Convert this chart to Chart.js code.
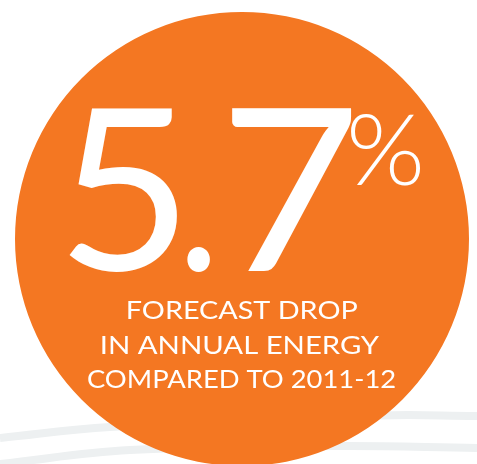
<!DOCTYPE html>
<html>
<head>
<meta charset="utf-8">
<script src="https://cdn.jsdelivr.net/npm/chart.js@4/dist/chart.umd.min.js"></script>
<style>
  html, body { margin: 0; padding: 0; background: #ffffff; overflow: hidden; }
  #wrap { position: relative; width: 477px; height: 464px; }
  #wrap canvas { position: absolute; left: 0; top: 0; }
</style>
</head>
<body>
<div id="wrap">
  <canvas id="bands" width="477" height="464"></canvas>
  <canvas id="circle" width="477" height="464"></canvas>
</div>
<script>
// ---- data ----
const headlineValue = ["5.7"];
const headlineUnit = ["%"];
const captionLines = ["FORECAST DROP", "IN ANNUAL ENERGY", "COMPARED TO 2011-12"];
const circleValues = [5.7];
const circleLabels = ["Forecast drop in annual energy"];

// decorative swoosh bands behind the circle
const bandUpperX = [0, 110, 380, 477];
const bandUpperY = [438, 427, 415.5, 416];
const bandLowerX = [0, 130, 337, 477];
const bandLowerY = [464, 450, 446, 448];

const ORANGE = '#F47722';
const BAND = '#EDF0F1';

function toPoints(xs, ys) { return xs.map((x, i) => ({ x: x, y: ys[i] })); }

// ---- background bands ----
new Chart(document.getElementById('bands'), {
  type: 'line',
  data: {
    datasets: [
      { data: toPoints(bandUpperX, bandUpperY), borderColor: BAND, borderWidth: 8, pointRadius: 0, tension: 0.4, fill: false },
      { data: toPoints(bandLowerX, bandLowerY), borderColor: BAND, borderWidth: 8, pointRadius: 0, tension: 0.4, fill: false }
    ]
  },
  options: {
    responsive: false,
    animation: false,
    layout: { padding: 0 },
    plugins: { legend: { display: false }, tooltip: { enabled: false } },
    events: [],
    scales: {
      x: { type: 'linear', min: 0, max: 477, display: false },
      y: { type: 'linear', min: 0, max: 464, reverse: true, display: false }
    }
  }
});

// ---- text fitting helper ----
function fitText(ctx, text, font, left, right, top, baseline) {
  ctx.save();
  ctx.font = font;
  ctx.textAlign = 'left';
  ctx.textBaseline = 'alphabetic';
  const m = ctx.measureText(text);
  const inkW = m.actualBoundingBoxLeft + m.actualBoundingBoxRight;
  const inkH = m.actualBoundingBoxAscent;
  const sx = (right - left) / inkW;
  const sy = (baseline - top) / inkH;
  ctx.translate(left, baseline);
  ctx.scale(sx, sy);
  ctx.fillText(text, m.actualBoundingBoxLeft, 0);
  ctx.restore();
}

const textPlugin = {
  id: 'centerText',
  afterDraw(chart) {
    const ctx = chart.ctx;
    ctx.fillStyle = '#ffffff';
    const chars = headlineValue[0].split('');
    // glyph boxes: "5", ".", "7"
    const boxes = [[69, 177, 108, 270], [187, 210, 247, 271], [232, 352, 108, 271]];
    chars.forEach((c, i) => {
      const b = boxes[i];
      fitText(ctx, c, '400 226px Lato', b[0], b[1], b[2], b[3]);
    });
    fitText(ctx, headlineUnit[0], '300 100px Lato', 351, 420, 113, 185);
    fitText(ctx, captionLines[0], '400 26px Lato', 128, 357, 300, 319);
    fitText(ctx, captionLines[1], '400 26px Lato', 102, 380, 335, 354);
    fitText(ctx, captionLines[2], '400 26px Lato', 88, 395, 369, 388);
  }
};

// ---- foreground circle ----
new Chart(document.getElementById('circle'), {
  type: 'pie',
  data: {
    labels: circleLabels,
    datasets: [{ data: circleValues, backgroundColor: [ORANGE], borderWidth: 0, radius: 227, clip: false, hoverOffset: 0, offset: 0 }]
  },
  options: {
    responsive: false,
    animation: false,
    events: [],
    layout: { padding: { left: 7, right: 0, top: 14, bottom: 0 } },
    plugins: { legend: { display: false }, tooltip: { enabled: false } }
  },
  plugins: [textPlugin]
});
</script>
</body>
</html>
